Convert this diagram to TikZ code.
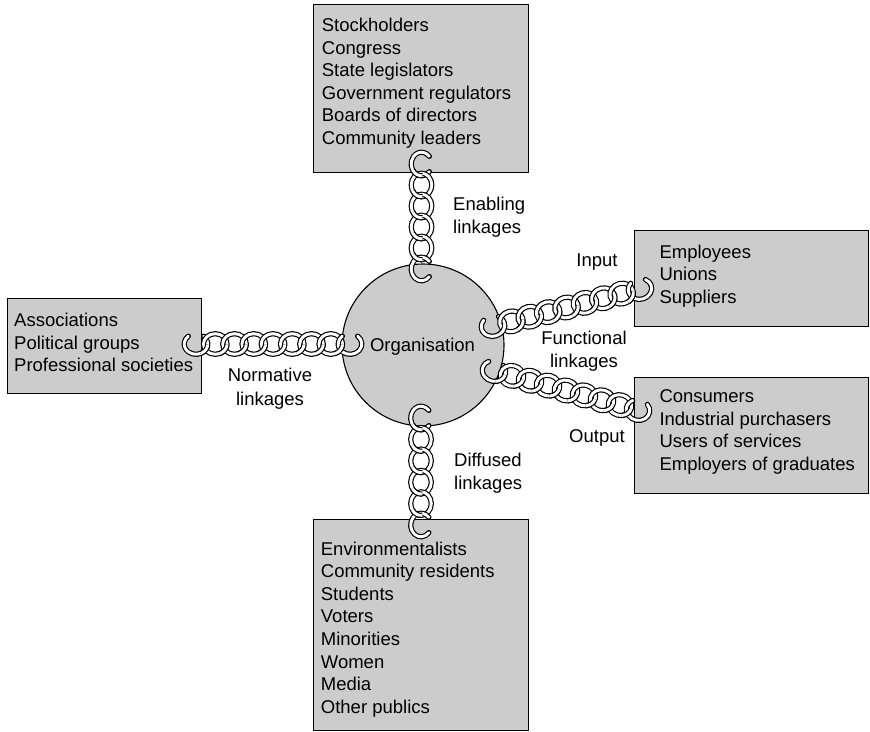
\documentclass[tikz,border=0pt]{standalone}
\usepackage{fontspec}
\setmainfont{Liberation Sans}
\definecolor{boxgray}{gray}{0.8}
\newcommand\RA{11.8}
\newcommand\RB{10.3}
\tikzset{
  box/.style={draw=black, line width=1.1pt, fill=boxgray, inner sep=0pt, anchor=north west},
  tubeo/.style={draw=black, line width=5.2pt},
  tubei/.style={draw=white, line width=2.9pt},
  lst/.style={anchor=base west, inner sep=0pt, font=\fontsize{18.5}{22.6}\selectfont},
  lbl/.style={inner sep=0pt, font=\fontsize{18.5}{23.5}\selectfont},
}
\newcommand\mkring[1]{%
  \path[tubeo] (#1,0) ellipse [x radius=\RA, y radius=\RB];
  \path[tubei] (#1,0) ellipse [x radius=\RA, y radius=\RB];}
\newcommand\mkhook[1]{%
  \path[tubeo,line cap=round] (#1,0) ++(-50:\RA\space and \RB) arc[start angle=-50, end angle=230, x radius=\RA, y radius=\RB];
  \path[tubei,line cap=round] (#1,0) ++(-50:\RA\space and \RB) arc[start angle=-50, end angle=230, x radius=\RA, y radius=\RB];}
\newcommand\mkpiece[2]{%
  \pgfmathsetmacro\pa{#2-32}%
  \pgfmathsetmacro\pb{#2+32}%
  \path[tubeo] (#1,0) ++(\pa:\RA\space and \RB) arc[start angle=\pa, end angle=\pb, x radius=\RA, y radius=\RB];
  \path[tubei] (#1,0) ++(\pa:\RA\space and \RB) arc[start angle=\pa, end angle=\pb, x radius=\RA, y radius=\RB];}
\newcommand\mkchain[5]{%
  \pgfmathsetmacro\cdx{#3-#1}%
  \pgfmathsetmacro\cdy{#4-#2}%
  \pgfmathsetmacro\cang{atan2(-\cdy,\cdx)}%
  \pgfmathsetmacro\clen{veclen(\cdx,\cdy)}%
  \pgfmathsetmacro\cd{\clen/(#5+1)}%
  \pgfmathsetmacro\ct{acos(\cd/(2*\RA))}%
  \begin{scope}[shift={(#1,#2)}, rotate=\cang]
    \mkhook{0}
    \foreach \k in {1,...,#5}{%
      \pgfmathsetmacro\cu{\k*\cd}%
      \pgfmathsetmacro\cp{(\k-1)*\cd}%
      \mkring{\cu}
      \mkpiece{\cp}{\ct}
    }
    \pgfmathsetmacro\cu{(#5+1)*\cd}%
    \pgfmathsetmacro\cp{#5*\cd}%
    \mkhook{\cu}
    \mkpiece{\cp}{\ct}
  \end{scope}}
\begin{document}
\begin{tikzpicture}[x=1pt, y={(0pt,-1pt)}]
\useasboundingbox (0,0) rectangle (870,731);
\fill[white] (0,0) rectangle (870,731);
% boxes
\node[box, minimum width=215pt, minimum height=168pt] (topbox) at (313,4) {};
\node[box, minimum width=194pt, minimum height=95pt] (leftbox) at (7,298) {};
\node[box, minimum width=234pt, minimum height=96pt] (inbox) at (634,230) {};
\node[box, minimum width=234pt, minimum height=116pt] (outbox) at (634,377) {};
\node[box, minimum width=215pt, minimum height=211pt] (botbox) at (313,519) {};
\node[circle, draw=black, line width=1.1pt, fill=boxgray, minimum size=162pt, inner sep=0pt] (org) at (423,345) {};
% chains
\mkchain{421.5}{164}{421.5}{269}{4}
\mkchain{421}{418}{421}{525}{4}
\mkchain{196}{344}{350}{344}{7}
\mkchain{493}{326}{640}{289}{7}
\mkchain{494}{371}{638}{410}{7}
% texts
\node[lst] (toptxt) at (321.7,31.5) {\begin{tabular}[t]{@{}l@{}}Stockholders\\Congress\\State legislators\\Government regulators\\Boards of directors\\Community leaders\end{tabular}};
\node[lst] (lefttxt) at (14,326.5) {\begin{tabular}[t]{@{}l@{}}Associations\\Political groups\\Professional societies\end{tabular}};
\node[lst] (intxt) at (659.3,258) {\begin{tabular}[t]{@{}l@{}}Employees\\Unions\\Suppliers\end{tabular}};
\node[lst] (outtxt) at (659.3,402.7) {\begin{tabular}[t]{@{}l@{}}Consumers\\Industrial purchasers\\Users of services\\Employers of graduates\end{tabular}};
\node[lst] (bottxt) at (320.7,555) {\begin{tabular}[t]{@{}l@{}}Environmentalists\\Community residents\\Students\\Voters\\Minorities\\Women\\Media\\Other publics\end{tabular}};
\node[lbl, anchor=base] (orgtxt) at (422.5,351.5) {Organisation};
\node[lbl, anchor=base west] (enab) at (453,210) {\begin{tabular}[t]{@{}l@{}}Enabling\\linkages\end{tabular}};
\node[lbl, anchor=base] (inp) at (597,266) {Input};
\node[lbl, anchor=base] (func) at (584,344) {\begin{tabular}[t]{@{}c@{}}Functional\\linkages\end{tabular}};
\node[lbl, anchor=base] (outp) at (597,442) {Output};
\node[lbl, anchor=base] (norm) at (270,381.5) {\begin{tabular}[t]{@{}c@{}}Normative\\linkages\end{tabular}};
\node[lbl, anchor=base west] (diff) at (454,466) {\begin{tabular}[t]{@{}l@{}}Diffused\\linkages\end{tabular}};
\end{tikzpicture}
\end{document}
